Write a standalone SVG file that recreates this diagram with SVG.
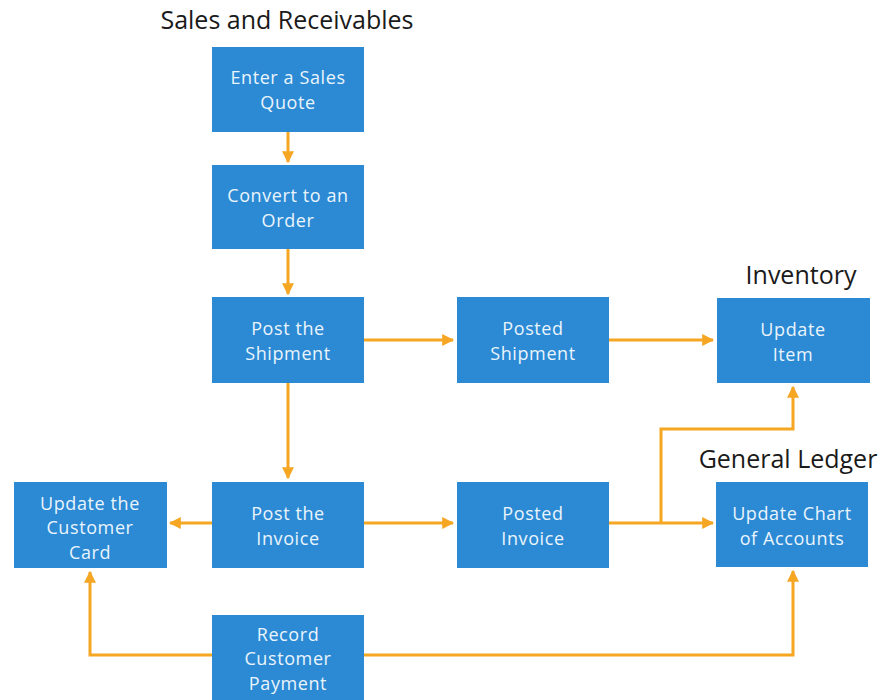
<svg xmlns="http://www.w3.org/2000/svg" width="881" height="700" viewBox="0 0 881 700">
<defs>
<marker id="ah" viewBox="0 0 10 10" refX="9" refY="5" markerWidth="4" markerHeight="4" orient="auto" markerUnits="strokeWidth">
<path d="M0,0 L10,5 L0,10 z" fill="#F5A623"/>
</marker>
<style>
.box{fill:#2B8AD3;}
.t{font-family:"Open Sans","Noto Sans","Liberation Sans",sans-serif;font-size:18px;letter-spacing:0.6px;fill:#EAF4FD;text-anchor:middle;}
.h{font-family:"Open Sans","Noto Sans","Liberation Sans",sans-serif;font-size:25px;fill:#1a1a1a;text-anchor:middle;}
.c{fill:none;stroke:#F5A623;stroke-width:3;}
</style>
</defs>
<rect width="881" height="700" fill="#ffffff"/>
<text class="h" x="287" y="29">Sales and Receivables</text>
<text class="h" x="801" y="284">Inventory</text>
<text class="h" x="788" y="468">General Ledger</text>
<g id="connectors">
<path class="c" d="M288,132 L288,162" marker-end="url(#ah)"/>
<path class="c" d="M288,249 L288,294" marker-end="url(#ah)"/>
<path class="c" d="M364,340 L453,340" marker-end="url(#ah)"/>
<path class="c" d="M609,340 L713,340" marker-end="url(#ah)"/>
<path class="c" d="M288,383 L288,478" marker-end="url(#ah)"/>
<path class="c" d="M212,523 L170,523" marker-end="url(#ah)"/>
<path class="c" d="M364,523 L453,523" marker-end="url(#ah)"/>
<path class="c" d="M609,523 L713,523" marker-end="url(#ah)"/>
<path class="c" d="M661,523 L661,429 L793,429 L793,387" marker-end="url(#ah)"/>
<path class="c" d="M212,655 L90,655 L90,572" marker-end="url(#ah)"/>
<path class="c" d="M364,655 L793,655 L793,571" marker-end="url(#ah)"/>
</g>
<g id="enter-quote"><rect class="box" x="212" y="47" width="152" height="85"/><text class="t" x="288" y="84">Enter a Sales</text><text class="t" x="288" y="108.5">Quote</text></g>
<g id="convert-order"><rect class="box" x="212" y="165" width="152" height="84"/><text class="t" x="288" y="202">Convert to an</text><text class="t" x="288" y="226.5">Order</text></g>
<g id="post-shipment"><rect class="box" x="212" y="297" width="152" height="86"/><text class="t" x="288" y="335">Post the</text><text class="t" x="288" y="359.5">Shipment</text></g>
<g id="posted-shipment"><rect class="box" x="457" y="297" width="152" height="86"/><text class="t" x="533" y="335">Posted</text><text class="t" x="533" y="359.5">Shipment</text></g>
<g id="update-item"><rect class="box" x="717" y="298" width="153" height="85"/><text class="t" x="793" y="336">Update</text><text class="t" x="793" y="360.5">Item</text></g>
<g id="update-customer-card"><rect class="box" x="14" y="482" width="153" height="86"/><text class="t" x="90" y="509.5">Update the</text><text class="t" x="90" y="534">Customer</text><text class="t" x="90" y="558.5">Card</text></g>
<g id="post-invoice"><rect class="box" x="212" y="482" width="152" height="86"/><text class="t" x="288" y="520">Post the</text><text class="t" x="288" y="544.5">Invoice</text></g>
<g id="posted-invoice"><rect class="box" x="457" y="482" width="152" height="86"/><text class="t" x="533" y="520">Posted</text><text class="t" x="533" y="544.5">Invoice</text></g>
<g id="update-chart"><rect class="box" x="716" y="482" width="152" height="85"/><text class="t" x="792" y="520">Update Chart</text><text class="t" x="792" y="544.5">of Accounts</text></g>
<g id="record-payment"><rect class="box" x="212" y="615" width="152" height="90"/><text class="t" x="288" y="640.5">Record</text><text class="t" x="288" y="665">Customer</text><text class="t" x="288" y="689.5">Payment</text></g>
</svg>
